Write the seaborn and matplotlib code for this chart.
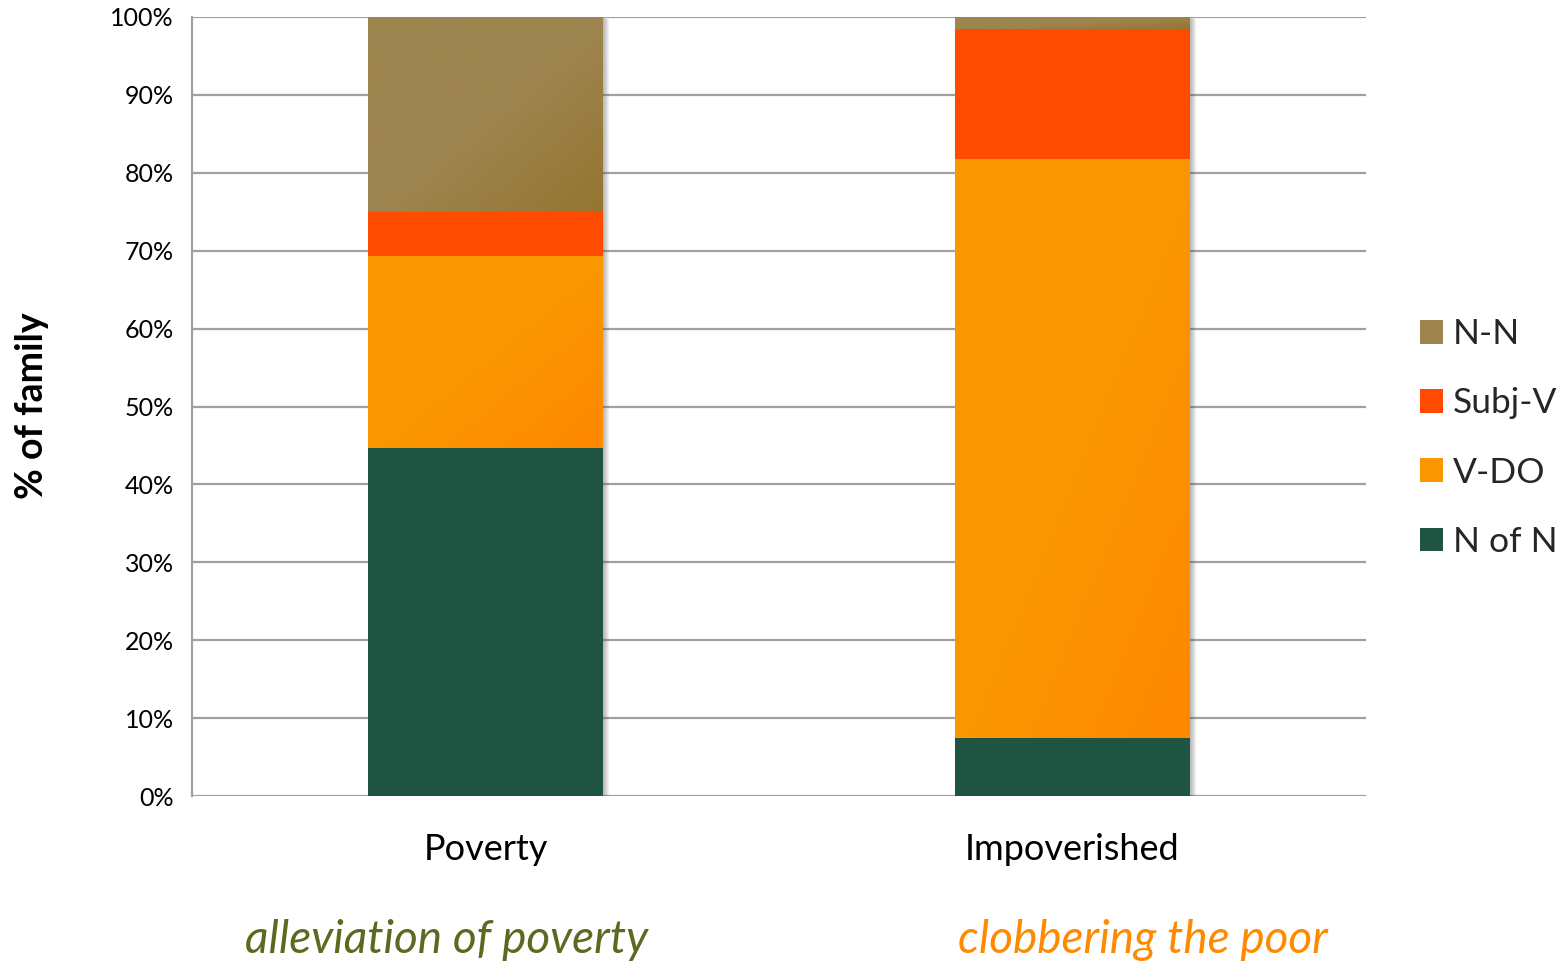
import matplotlib
matplotlib.use("Agg")
import matplotlib.pyplot as plt
import matplotlib.patheffects as pe
from matplotlib.patches import Patch
from matplotlib.colors import to_rgb
import seaborn as sns
import pandas as pd
import numpy as np

categories = ["Poverty", "Impoverished"]
series = ["N of N", "V-DO", "Subj-V", "N-N"]
n_of_n = [44.7, 7.5]
v_do = [24.6, 74.3]
subj_v = [5.7, 16.6]
n_n = [25.0, 1.6]
ytick_vals = [0, 10, 20, 30, 40, 50, 60, 70, 80, 90, 100]
phrases = ["alleviation of poverty", "clobbering the poor"]

colors = {"N of N": "#1F5443", "V-DO": "#FA9700", "Subj-V": "#FE4B00", "N-N": "#9E8550"}
grad_end = {"V-DO": "#FF8800", "N-N": "#957530"}
phrase_colors = ["#5A6A1E", "#FF8A00"]

sns.set_theme(style="white")
plt.rcParams["font.family"] = ["Lato", "DejaVu Sans"]

df = pd.DataFrame({"category": categories, "N of N": n_of_n, "V-DO": v_do,
                   "Subj-V": subj_v, "N-N": n_n})
cum = df[series].cumsum(axis=1)

fig = plt.figure(figsize=(15.68, 9.61), dpi=100)
ax = fig.add_axes([192/1568, 1-796/961, (1366-192)/1568, (796-17)/961])


def gradient_image(c0, c1, n=64):
    a = np.array(to_rgb(c0)); b = np.array(to_rgb(c1))
    u = np.linspace(0, 1, n)[None, :]
    v = np.linspace(0, 1, n)[:, None]
    t = np.clip(((u + v) / 2 - 0.5) / 0.5, 0, 1)
    img = a[None, None, :] * (1 - t[..., None]) + b[None, None, :] * t[..., None]
    return img


shadow = [pe.SimplePatchShadow(offset=(k * 0.75, -k * 0.25), shadow_rgbFace="#555555", alpha=0.08)
          for k in range(6, 0, -1)] + [pe.Normal()]

# draw from tallest cumulative to shortest
for i, s in enumerate(reversed(series)):
    d = pd.DataFrame({"category": categories, "value": cum[s].values})
    n_before = len(ax.patches)
    sns.barplot(data=d, x="category", y="value", color=colors[s], width=0.4,
                saturation=1, ax=ax, zorder=3 + i, linewidth=0)
    new = ax.patches[n_before:]
    if i == 0:
        for p in new:
            p.set_path_effects(shadow)
    if s in grad_end:
        vals = df[s].values
        for p, top, h in zip(new, cum[s].values, vals):
            x0 = p.get_x(); x1 = x0 + p.get_width()
            ax.imshow(gradient_image(colors[s], grad_end[s]), extent=(x0, x1, top - h, top),
                      origin="upper", aspect="auto", zorder=3 + i + 0.5, interpolation="bilinear")

ax.set_xlim(-0.5, 1.5)
ax.set_ylim(0, 100)
ax.set_yticks(ytick_vals)
ax.set_yticklabels([f"{v}%" for v in ytick_vals], fontsize=18)
ax.yaxis.grid(True, color="#A0A0A0", linewidth=1.6, zorder=0)
ax.set_axisbelow(True)
for sp in ["top", "right", "bottom"]:
    ax.spines[sp].set_visible(False)
ax.spines["left"].set_color("#A0A0A0")
ax.spines["left"].set_linewidth(1.6)
ax.tick_params(axis="y", direction="out", length=7, width=1.6, color="#A0A0A0", pad=6, labelcolor="black")
ax.tick_params(axis="x", length=0, pad=27, labelsize=26, labelcolor="black")
ax.set_xlabel("")
ax.set_ylabel("")

fig.text(32/1568, 1-406/961, "% of family", rotation=90, ha="center", va="center",
         fontsize=27, fontweight="bold", color="black")

for i, (ph, c) in enumerate(zip(phrases, phrase_colors)):
    xc = [447/1568, 1143/1568][i]
    fig.text(xc, 1-953/961, ph, ha="center", va="baseline", fontsize=33,
             style="italic", color=c)

handles = [Patch(facecolor=colors[s], edgecolor="none", label=s) for s in reversed(series)]
leg = fig.legend(handles=handles, loc="center left", bbox_to_anchor=(1420/1568, 1-438/961),
                 frameon=False, fontsize=25.5, handlelength=0.65, handleheight=0.65,
                 handletextpad=0.28, labelspacing=1.05, borderaxespad=0, borderpad=0)

fig.savefig("out.png", dpi=100)
